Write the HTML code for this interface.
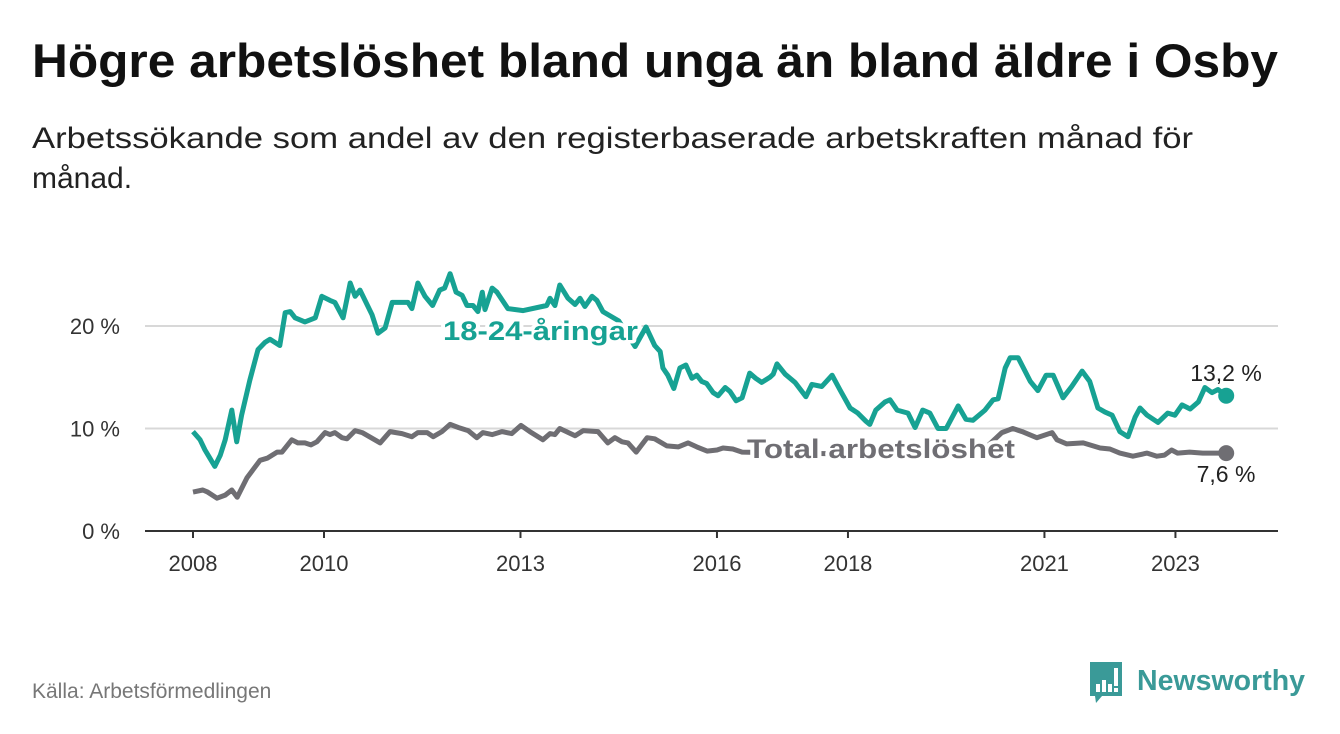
<!DOCTYPE html>
<html><head><meta charset="utf-8"><style>
html,body{margin:0;padding:0;background:#fff;}
svg{display:block;font-family:"Liberation Sans",sans-serif;}
</style></head><body>
<svg id="chart" width="1340" height="734" viewBox="0 0 1340 734">
<text x="32" y="77" font-size="47" font-weight="bold" fill="#111" textLength="1246" lengthAdjust="spacingAndGlyphs">Högre arbetslöshet bland unga än bland äldre i Osby</text>
<text x="32" y="148" font-size="30" fill="#222" textLength="1161" lengthAdjust="spacingAndGlyphs">Arbetssökande som andel av den registerbaserade arbetskraften månad för</text>
<text x="32" y="188" font-size="30" fill="#222">månad.</text>
<g id="grid"></g>
<g id="lines"></g>
<g id="labels"></g>
<text x="32" y="698" font-size="21" fill="#777">Källa: Arbetsförmedlingen</text>
<g>
<path d="M1090 662 h32 v34 h-20 l-6 7 l-1 -7 h-5 z" fill="#3a9a98"/>
<rect x="1096" y="684" width="4" height="8" fill="#fff"/><rect x="1102" y="680" width="4" height="12" fill="#fff"/><rect x="1108" y="684" width="4" height="8" fill="#fff"/><rect x="1114" y="668" width="4" height="18" fill="#fff"/><rect x="1114" y="688" width="4" height="4" fill="#fff"/>
<text x="1137" y="690" font-size="29" font-weight="bold" fill="#3a9a98" textLength="168" lengthAdjust="spacingAndGlyphs">Newsworthy</text>
</g>
</svg>
<script>
const yTicks=[0,10,20];
const yTickLabels=["0 %","10 %","20 %"];
const xTickYears=[2008,2010,2013,2016,2018,2021,2023];
const youthMonths=[0,1.3,2.2,3.1,4.0,5.0,5.9,7.1,8.0,8.9,10.4,11.9,13.2,14.1,15.9,16.9,17.8,18.7,20.5,22.4,23.6,25.1,26.0,27.5,28.8,29.7,30.6,32.8,33.9,35.2,36.5,39.4,40.1,41.2,42.5,43.9,45.2,46.1,47.1,48.2,49.3,50.2,51.3,52.2,53.0,53.5,54.8,55.7,57.7,60.5,64.8,65.4,66.3,67.2,68.7,70.0,70.9,71.8,73.1,74.0,75.1,78,81.0,83.0,84.6,85.6,86.1,87.0,88.1,89.2,90.3,91.4,92.3,93.2,94.1,95.3,96.2,97.5,98.4,99.5,100.6,102.0,103.1,104.2,105.7,106.3,107.0,108.5,110.3,112.3,113.4,115.2,117.1,118.5,120.4,121.8,123.3,124.0,125.1,126.8,127.7,129.0,131.0,132.3,133.7,135.0,136.5,138.0,140.2,141.6,142.9,145.1,146.6,147.5,148.8,149.7,151.2,153.4,154.8,156.3,157.6,159.4,161.0,162.9,164.3,165.8,167.1,168.4,169.8,171.3,172.6,173.5,174.8,176.8,178.6,179.9,181.2,182.7,184.2,185.4,186.7,187.8,189.3];
const youthValues=[9.7,8.9,7.9,7.1,6.3,7.4,8.9,11.8,8.7,11.3,14.7,17.7,18.4,18.7,18.1,21.3,21.4,20.8,20.4,20.8,22.9,22.5,22.3,20.8,24.2,22.9,23.5,21.1,19.3,19.8,22.3,22.3,21.7,24.2,22.9,22.0,23.5,23.7,25.1,23.3,23.0,22.0,22.0,21.4,23.3,21.6,23.7,23.3,21.7,21.5,22.0,22.7,22.0,24.0,22.7,22.1,22.7,21.9,22.9,22.5,21.4,20.5,18.0,19.9,18.1,17.5,15.9,15.2,13.9,15.9,16.2,14.9,15.2,14.6,14.4,13.5,13.2,14.0,13.6,12.7,13.0,15.4,14.9,14.5,15.0,15.3,16.3,15.3,14.5,13.1,14.3,14.1,15.2,13.8,12.0,11.5,10.7,10.4,11.8,12.6,12.8,11.8,11.5,10.1,11.8,11.5,10.0,10.0,12.2,10.9,10.8,11.8,12.8,12.9,15.9,16.9,16.9,14.6,13.7,15.2,15.2,13.0,14.1,15.6,14.6,12.0,11.6,11.3,9.7,9.2,11.1,12.0,11.3,10.6,11.5,11.3,12.3,11.9,12.6,14.0,13.5,13.8,13.2];
const totalMonths=[0,1.8,2.7,4.4,5.9,7.1,8.1,9.9,12.3,13.6,15.4,16.3,18.1,19.2,20.5,21.6,22.7,24.2,25.1,26.0,27.3,28.2,29.7,31.0,34.3,36.1,38.3,40.1,41.2,42.9,44.0,45.6,47.1,48.6,50.4,52.0,53.1,54.8,56.6,58.4,60.1,61.7,64.1,65.4,66.3,67.2,70.0,71.5,74.2,76.0,77.3,78.6,79.7,81.2,83.2,84.6,86.8,88.9,90.7,92.3,94.2,96.0,97.1,98.9,100.6,111.2,129.5,144.2,148.2,150.2,151.9,154.6,157.4,158.3,160.1,163.1,166.2,168.0,169.8,172.2,174.8,176.6,178.0,179.3,180.4,182.6,185.0,187.3,189.3];
const totalValues=[3.8,4.0,3.8,3.2,3.5,4.0,3.3,5.2,6.9,7.1,7.7,7.7,8.9,8.6,8.6,8.4,8.7,9.6,9.4,9.6,9.1,9.0,9.8,9.6,8.6,9.7,9.5,9.2,9.6,9.6,9.2,9.7,10.4,10.1,9.8,9.1,9.6,9.4,9.7,9.5,10.3,9.7,8.9,9.5,9.4,10.0,9.3,9.8,9.7,8.6,9.1,8.7,8.6,7.7,9.1,9.0,8.3,8.2,8.6,8.2,7.8,7.9,8.1,8.0,7.7,7.6,7.4,7.6,9.6,10.0,9.7,9.1,9.6,8.9,8.5,8.6,8.1,8.0,7.6,7.3,7.6,7.3,7.4,7.9,7.6,7.7,7.6,7.6,7.6];

const NS="http://www.w3.org/2000/svg";
const x0=193,pxPerMonth=5.458,yBase=531,pxPerPct=10.25;
const xs=m=>x0+m*pxPerMonth;
const ys=v=>yBase-v*pxPerPct;
function mk(tag,attrs,parent){const e=document.createElementNS(NS,tag);for(const k in attrs)e.setAttribute(k,attrs[k]);parent.appendChild(e);return e;}
const grid=document.getElementById('grid'),lines=document.getElementById('lines'),labels=document.getElementById('labels');

yTicks.forEach((t,i)=>{
  if(t>0){const g=mk('line',{x1:145,x2:1278,y1:ys(t),y2:ys(t),stroke:'#d8d8d8','stroke-width':2},grid);
  
  }
  const tx=mk('text',{x:120,y:ys(t)+8,'text-anchor':'end','font-size':22,fill:'#333'},grid);
  tx.textContent=yTickLabels[i];
  
  
});
const ax=mk('line',{x1:145,x2:1278,y1:yBase,y2:yBase,stroke:'#333','stroke-width':2},grid);


xTickYears.forEach(yr=>{
  const x=xs((yr-2008)*12);
  const tk=mk('line',{x1:x,x2:x,y1:yBase,y2:yBase+7,stroke:'#333','stroke-width':2},grid);
  
  
  const tx=mk('text',{x:x,y:571,'text-anchor':'middle','font-size':22,fill:'#333'},grid);
  tx.textContent=yr;
  
  
});
function pts(ms,vs){return ms.map((m,i)=>xs(m).toFixed(1)+','+ys(vs[i]).toFixed(1)).join(' ');}
const tl=mk('polyline',{points:pts(totalMonths,totalValues),fill:'none',stroke:'#6f6e73','stroke-width':5,'stroke-linejoin':'round'},lines);


const yl=mk('polyline',{points:pts(youthMonths,youthValues),fill:'none',stroke:'#17a293','stroke-width':5,'stroke-linejoin':'round'},lines);


const tEnd=totalMonths.length-1,yEnd=youthMonths.length-1;
const d1=mk('circle',{cx:xs(totalMonths[tEnd]),cy:ys(totalValues[tEnd]),r:8,fill:'#6f6e73'},lines);


const d2=mk('circle',{cx:xs(youthMonths[yEnd]),cy:ys(youthValues[yEnd]),r:8,fill:'#17a293'},lines);



const l1=mk('text',{x:443,y:340,'font-size':27,'font-weight':'bold',fill:'#17a293',stroke:'#fff','stroke-width':7,'paint-order':'stroke','stroke-linejoin':'round',textLength:195,lengthAdjust:'spacingAndGlyphs'},labels);
l1.textContent='18-24-åringar';


const l2=mk('text',{x:747,y:458,'font-size':27,'font-weight':'bold',fill:'#6f6e73',stroke:'#fff','stroke-width':7,'paint-order':'stroke','stroke-linejoin':'round',textLength:268,lengthAdjust:'spacingAndGlyphs'},labels);
l2.textContent='Total arbetslöshet';


const v1=mk('text',{x:1226,y:381,'text-anchor':'middle','font-size':23,fill:'#222'},labels);
v1.textContent=youthValues[yEnd].toFixed(1).replace('.',',')+' %';


const v2=mk('text',{x:1226,y:482,'text-anchor':'middle','font-size':23,fill:'#222'},labels);
v2.textContent=totalValues[tEnd].toFixed(1).replace('.',',')+' %';


</script>
</body></html>
